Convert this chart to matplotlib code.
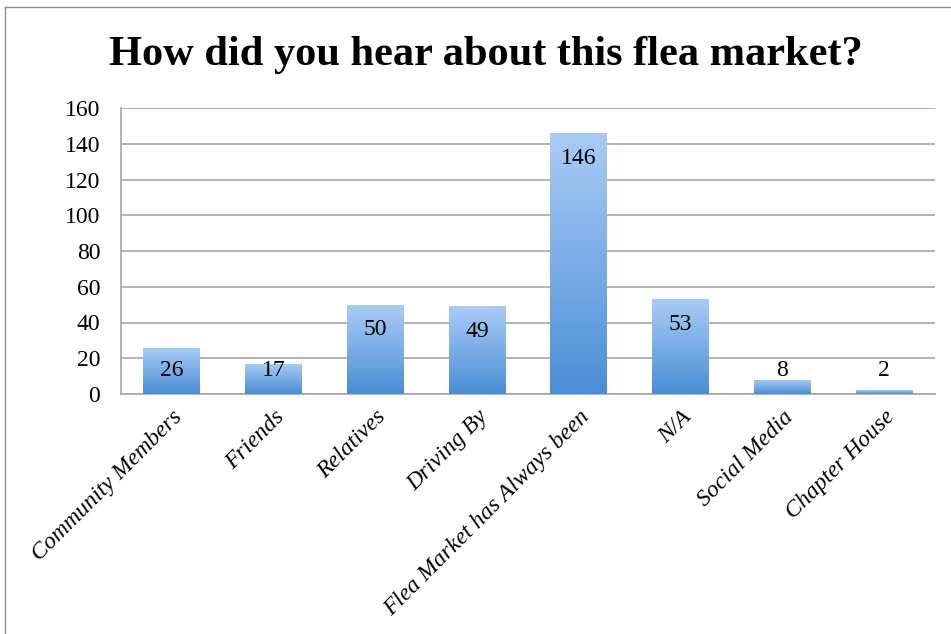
import numpy as np
import matplotlib
matplotlib.use("Agg")
import matplotlib.pyplot as plt
from matplotlib.colors import LinearSegmentedColormap
from matplotlib.lines import Line2D

categories = ["Community Members", "Friends", "Relatives", "Driving By",
              "Flea Market has Always been", "N/A", "Social Media", "Chapter House"]
counts = [26, 17, 50, 49, 146, 53, 8, 2]
yticks = [0, 20, 40, 60, 80, 100, 120, 140, 160]

plt.rcParams['font.family'] = ['Liberation Serif', 'DejaVu Serif']

fig = plt.figure(figsize=(9.51, 6.34), dpi=100)
ax = fig.add_axes([121 / 951, 1 - 394 / 634, 814 / 951, 286 / 634])

x = np.arange(len(categories))
bars = ax.bar(x, counts, width=0.56, color='none', edgecolor='none', zorder=3)

# vertical gradient inside each bar, light at top, darker at bottom
grad_cmap = LinearSegmentedColormap.from_list("bar", ["#4a8ed6", "#a9ccf6"])
grad = np.linspace(0, 1, 256).reshape(-1, 1)
for b in bars:
    x0, w, h = b.get_x(), b.get_width(), b.get_height()
    im = ax.imshow(grad, cmap=grad_cmap, origin='lower', aspect='auto',
                   extent=[x0, x0 + w, 0, h], zorder=3)
    im.set_clip_path(b)

# value labels: inside end, pushed up when the bar is too short
for xi, v in zip(x, counts):
    ax.text(xi, max(v - 14, 13), str(v), ha='center', va='center',
            fontsize=17, zorder=4)

ax.set_xlim(-0.5, len(categories) - 0.5)
ax.set_ylim(0, 160)
ax.set_yticks(yticks)
ax.set_yticklabels([str(t) for t in yticks], fontsize=17)
ax.yaxis.grid(True, color='#a6a6a6', linewidth=1.2, zorder=0)
ax.set_axisbelow(True)
ax.tick_params(axis='y', length=0, pad=15)
ax.tick_params(axis='x', length=0, pad=9)
ax.set_xticks(x)
ax.set_xticklabels(categories, rotation=45, ha='right', rotation_mode='anchor',
                   fontsize=17, style='italic')

for s in ['top', 'right']:
    ax.spines[s].set_visible(False)
for s in ['left', 'bottom']:
    ax.spines[s].set_color('#a6a6a6')
    ax.spines[s].set_linewidth(1.2)

fig.text(486 / 951, 1 - 55 / 634, "How did you hear about this flea market?",
         ha='center', va='center', fontsize=30.5, fontweight='bold')

# outer chart frame (top and left edges visible in reference)
fig.add_artist(Line2D([5 / 951, 1], [1 - 7 / 634, 1 - 7 / 634],
                      transform=fig.transFigure, color='#8c8c8c', linewidth=1))
fig.add_artist(Line2D([5 / 951, 5 / 951], [0, 1 - 7 / 634],
                      transform=fig.transFigure, color='#8c8c8c', linewidth=1))

fig.savefig("out.png", dpi=100)
